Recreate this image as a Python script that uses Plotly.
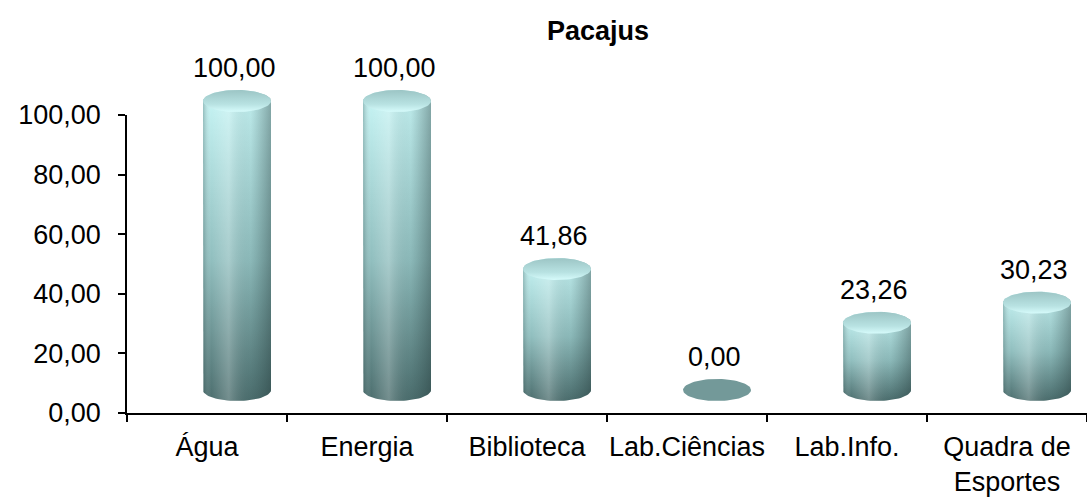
import numpy as np
import plotly.graph_objects as go

# ---- data ----
title_text = "Pacajus"
categories = ["Água", "Energia", "Biblioteca", "Lab.Ciências", "Lab.Info.", "Quadra de<br>Esportes"]
values = [100.00, 100.00, 41.86, 0.00, 23.26, 30.23]
y_ticks = [0, 20, 40, 60, 80, 100]

# ---- layout constants (pixels) ----
W, H = 1087, 497
ML, MR, MT, MB = 127, 0, 40, 84
plot_h = H - MT - MB
axis_top_px, axis_bot_px = 115, 413
main_dom_top = (axis_bot_px - axis_top_px) / plot_h
base_px = 390          # pixel row of cylinder base (3D floor)
px_per_unit = 2.89
y2_low = -(axis_bot_px - base_px) / px_per_unit
y2_high = y2_low + plot_h / px_per_unit
x_shift = 30 / 160.0   # 3D depth shift in category units
half_w = 34 / 160.0
ell_b = 11 / px_per_unit

FONT = "Liberation Sans, Arial, sans-serif"
FS = 27

fig = go.Figure()

# invisible trace to set up category axis
fig.add_trace(go.Scatter(x=categories, y=[None] * len(categories), mode="markers",
                         showlegend=False, hoverinfo="skip", xaxis="x", yaxis="y"))

t_bot = np.linspace(np.pi, 2 * np.pi, 40)
t_top = np.linspace(0, np.pi, 40)
t_full = np.linspace(0, 2 * np.pi, 80)

for i, v in enumerate(values):
    c = i
    if v > 0:
        xs = [c - half_w, c - half_w] + list(c + half_w * np.cos(t_bot)) + [c + half_w] + list(c + half_w * np.cos(t_top))
        ys = [v, 0] + list(0 + ell_b * np.sin(t_bot)) + [v] + list(v + ell_b * np.sin(t_top))
        # body vertical shading
        fig.add_trace(go.Scatter(
            x=xs, y=ys, mode="lines", fill="toself", line=dict(width=0),
            fillgradient=dict(type="vertical",
                              colorscale=[[0, "#4c6e6e"], [0.45, "#90bebe"], [1, "#c8f6f6"]]),
            showlegend=False, hoverinfo="skip", xaxis="x2", yaxis="y2"))
        # body horizontal shading overlay
        fig.add_trace(go.Scatter(
            x=xs, y=ys, mode="lines", fill="toself", line=dict(width=0),
            fillgradient=dict(type="horizontal",
                              colorscale=[[0, "rgba(30,60,60,0.28)"], [0.12, "rgba(255,255,255,0.0)"],
                                          [0.38, "rgba(255,255,255,0.22)"], [0.7, "rgba(40,70,70,0.05)"],
                                          [1, "rgba(25,45,45,0.38)"]]),
            showlegend=False, hoverinfo="skip", xaxis="x2", yaxis="y2"))
        # top ellipse
        fig.add_trace(go.Scatter(
            x=list(c + half_w * np.cos(t_full)), y=list(v + ell_b * np.sin(t_full)),
            mode="lines", fill="toself", line=dict(width=0),
            fillgradient=dict(type="vertical",
                              colorscale=[[0, "#d6fbfb"], [0.35, "#b8e2e2"], [1, "#9cc5c5"]]),
            showlegend=False, hoverinfo="skip", xaxis="x2", yaxis="y2"))
    else:
        fig.add_trace(go.Scatter(
            x=list(c + half_w * np.cos(t_full)), y=list(v + ell_b * np.sin(t_full)),
            mode="lines", fill="toself", line=dict(width=0), fillcolor="#739999",
            showlegend=False, hoverinfo="skip", xaxis="x2", yaxis="y2"))

# value labels
for i, v in enumerate(values):
    fig.add_annotation(x=i, y=v, xref="x2", yref="y2", text=f"{v:.2f}".replace(".", ","),
                       showarrow=False, yshift=33, xshift=-3,
                       font=dict(family=FONT, size=FS, color="black"))

fig.update_layout(
    width=W, height=H,
    margin=dict(l=ML, r=MR, t=MT, b=MB, autoexpand=False),
    paper_bgcolor="white", plot_bgcolor="rgba(0,0,0,0)",
    separators=",.",
    showlegend=False,
    font=dict(family=FONT, size=FS, color="black"),
    title=dict(text=f"<b>{title_text}</b>", x=598 / W, xanchor="center", xref="container",
               y=1 - 31 / H, yanchor="middle", yref="container",
               font=dict(family=FONT, size=27, color="black")),
    xaxis=dict(type="category", categoryorder="array", categoryarray=categories,
               range=[-0.5, len(categories) - 0.5], domain=[0, 1], automargin=False,
               showline=True, linecolor="black", linewidth=1.5, tickangle=0,
               ticks="outside", ticklen=7, tickwidth=1.5, tickcolor="black",
               tickson="boundaries", showgrid=False, zeroline=False, ticklabelstandoff=9,
               tickfont=dict(family=FONT, size=FS, color="black"), anchor="y"),
    yaxis=dict(range=[0, 100], domain=[0, main_dom_top], tickvals=y_ticks, tickformat=".2f",
               automargin=False,
               showline=True, linecolor="black", linewidth=1.5,
               ticks="outside", ticklen=7, tickwidth=1.5, tickcolor="black",
               showgrid=False, zeroline=False, ticklabelstandoff=12,
               tickfont=dict(family=FONT, size=FS, color="black"), anchor="x"),
    xaxis2=dict(range=[-0.5 - x_shift, len(categories) - 0.5 - x_shift], domain=[0, 1],
                visible=False, anchor="y2", fixedrange=True),
    yaxis2=dict(range=[y2_low, y2_high], domain=[0, 1], visible=False, anchor="x2", fixedrange=True),
)

fig.write_html("out.html", config={"displayModeBar": False},
               post_script="document.body.style.margin='0';document.body.style.overflow='hidden';")
